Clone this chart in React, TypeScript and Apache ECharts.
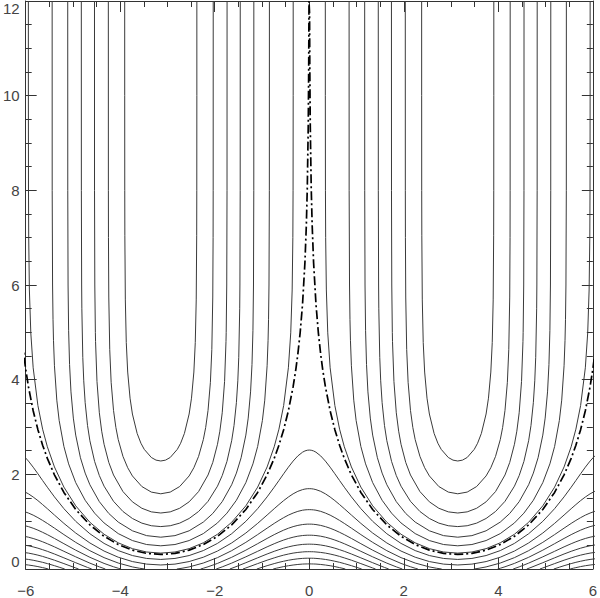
import React, { useEffect, useRef } from "react";
import * as echarts from "echarts";

type P = [number, number];

// Axis ticks
const X_MIN = -6, X_MAX = 6, X_STEP = 2;
const Y_MIN = 0, Y_MAX = 12, Y_STEP = 2;

// Centre of the left family of U-shaped contours (the right family is its mirror image)
const U_CENTER = -3.1416;

// U-shaped contours: [half-width from the centre, y]
const U1: P[] = [[0,2.282],[0.1,2.300],[0.2,2.356],[0.35,2.528],[0.42,2.657],[0.5,2.864],[0.6,3.274],[0.65,3.609],[0.7,4.161],[0.73,4.785],[0.75,5.685],[0.76,7.04],[0.7621,8],[0.7633,10],[0.7634,12]];
const U2: P[] = [[0,1.589],[0.2,1.625],[0.4,1.742],[0.6,1.966],[0.7,2.140],[0.8,2.379],[0.9,2.733],[0.95,2.989],[1.0,3.350],[1.05,3.944],[1.08,4.634],[1.1,5.746],[1.107,7],[1.1087,8],[1.1097,12]];
const U3: P[] = [[0,1.183],[0.2,1.207],[0.4,1.283],[0.6,1.419],[0.8,1.636],[1.0,1.986],[1.1,2.251],[1.2,2.635],[1.25,2.911],[1.3,3.301],[1.35,3.963],[1.38,4.804],[1.384,5],[1.3958,6],[1.4017,8],[1.4026,12]];
const U4: P[] = [[0,0.896],[0.2,0.914],[0.4,0.969],[0.6,1.067],[0.8,1.215],[1.0,1.430],[1.2,1.750],[1.3,1.974],[1.4,2.272],[1.5,2.710],[1.55,3.033],[1.6,3.514],[1.63,3.976],[1.65,4.472],[1.67,5.497],[1.6744,6],[1.6803,8],[1.6812,12]];
const U5: P[] = [[0,0.672],[0.3,0.705],[0.6,0.807],[0.9,0.991],[1.1,1.173],[1.3,1.423],[1.5,1.780],[1.6,2.026],[1.7,2.351],[1.8,2.829],[1.85,3.188],[1.9,3.742],[1.93,4.319],[1.95,5.043],[1.9616,6],[1.968,8],[1.9689,12]];
const U6: P[] = [[0,0.490],[0.3,0.517],[0.6,0.601],[0.9,0.748],[1.2,0.973],[1.4,1.180],[1.6,1.452],[1.8,1.825],[1.95,2.221],[2.05,2.589],[2.15,3.138],[2.2,3.567],[2.25,4.294],[2.27,4.832],[2.28,5.266],[2.2896,6],[2.2974,8],[2.2986,12]];
const U7: P[] = [[0,0.336],[0.3,0.359],[0.6,0.430],[0.9,0.553],[1.2,0.734],[1.5,0.987],[1.8,1.335],[2.05,1.730],[2.25,2.156],[2.4,2.583],[2.5,2.954],[2.6,3.454],[2.7,4.251],[2.75,4.989],[2.78,5.895],[2.7944,7],[2.7991,8],[2.8014,10],[2.8017,12]];

// Dash-dot separatrix
const SEPARATRIX: P[] = [[0,0.307],[0.3,0.329],[0.6,0.398],[0.9,0.517],[1.2,0.691],[1.5,0.932],[1.8,1.258],[2.05,1.618],[2.25,1.989],[2.4,2.337],[2.5,2.615],[2.6,2.944],[2.7,3.344],[2.8,3.851],[2.8584,4.223],[2.9,4.539],[2.95,5.001],[3.0,5.604],[3.05,6.475],[3.08,7.268],[3.1,8.053],[3.12,9.364],[3.13,10.608],[3.135,11.737],[3.1358,12]];

// Wavy contours below the separatrix: [offset from the centre, y]
const W8: P[] = [[0,0.202],[0.3,0.223],[0.6,0.284],[0.9,0.389],[1.2,0.541],[1.5,0.745],[1.8,1.007],[2.05,1.275],[2.25,1.524],[2.4,1.728],[2.5,1.869],[2.6,2.012],[2.7,2.151],[2.8,2.280],[2.9,2.389],[3.0,2.468],[3.05,2.494],[3.1,2.509],[3.1416,2.513]];
const W9: P[] = [[0,0.085],[0.3,0.103],[0.6,0.157],[0.9,0.249],[1.2,0.379],[1.5,0.550],[1.8,0.760],[2.05,0.964],[2.25,1.140],[2.4,1.274],[2.5,1.361],[2.6,1.445],[2.7,1.521],[2.8,1.588],[2.9,1.641],[3.0,1.677],[3.05,1.689],[3.1,1.696],[3.1416,1.697]];
const W10: P[] = [[0.3398,0],[0.45,0.016],[0.6,0.044],[0.9,0.126],[1.2,0.240],[1.5,0.387],[1.8,0.563],[2.05,0.727],[2.25,0.863],[2.4,0.963],[2.5,1.026],[2.6,1.085],[2.7,1.138],[2.8,1.182],[2.9,1.218],[3.0,1.242],[3.05,1.249],[3.1,1.253],[3.1416,1.254]];
const W11: P[] = [[0.8429,0],[0.9,0.016],[1.0,0.047],[1.2,0.118],[1.5,0.247],[1.8,0.398],[2.05,0.535],[2.25,0.646],[2.4,0.726],[2.5,0.775],[2.6,0.821],[2.7,0.861],[2.8,0.895],[2.9,0.921],[3.0,0.939],[3.05,0.944],[3.1,0.948],[3.1416,0.948]];
const W12: P[] = [[1.1726,0],[1.3,0.045],[1.5,0.124],[1.8,0.257],[2.05,0.374],[2.25,0.468],[2.4,0.534],[2.5,0.575],[2.6,0.612],[2.7,0.645],[2.8,0.672],[2.9,0.693],[3.0,0.707],[3.05,0.711],[3.1,0.714],[3.1416,0.714]];
const W13: P[] = [[1.4604,0],[1.55,0.033],[1.8,0.133],[2.05,0.236],[2.25,0.317],[2.4,0.374],[2.5,0.408],[2.6,0.440],[2.7,0.467],[2.8,0.490],[2.9,0.507],[3.0,0.519],[3.05,0.522],[3.1,0.524],[3.1416,0.525]];
const W14: P[] = [[1.7389,0],[1.8,0.022],[2.05,0.114],[2.25,0.186],[2.4,0.235],[2.5,0.266],[2.6,0.293],[2.7,0.316],[2.8,0.336],[2.9,0.350],[3.0,0.360],[3.05,0.364],[3.1,0.365],[3.1416,0.366]];
const W15: P[] = [[2.0319,0],[2.15,0.038],[2.25,0.070],[2.4,0.114],[2.5,0.141],[2.6,0.164],[2.7,0.185],[2.8,0.202],[2.9,0.215],[3.0,0.224],[3.05,0.227],[3.1,0.228],[3.1416,0.228]];
const W16: P[] = [[2.3781,0],[2.45,0.018],[2.5,0.029],[2.6,0.051],[2.7,0.069],[2.8,0.084],[2.9,0.096],[3.0,0.104],[3.05,0.106],[3.1,0.107],[3.1416,0.108]];

const U_CURVES = [U1, U2, U3, U4, U5, U6, U7];
const CLOSED_WAVES = [W8, W9];
const CUT_WAVES = [W10, W11, W12, W13, W14, W15, W16];

const toLeft = (h: P[]): P[] => h.slice().reverse().map(([u, y]) => [U_CENTER - u, y] as P);
const toRight = (h: P[]): P[] => h.map(([u, y]) => [U_CENTER + u, y] as P);
const mirror = (pts: P[]): P[] => pts.map(([x, y]) => [-x, y] as P);
const joinAtZero = (pts: P[]): P[] => pts.concat(mirror(pts).reverse().slice(1));

const THIN = { color: "#3a3a3a", width: 1 };

function buildSeries() {
  const series: any[] = [];
  const add = (data: P[], style: any = THIN, z = 2) =>
    series.push({
      type: "line",
      data,
      symbol: "none",
      showSymbol: false,
      silent: true,
      clip: true,
      z,
      lineStyle: style,
    });

  U_CURVES.forEach((h) => {
    const left = toLeft(h).concat(toRight(h).slice(1));
    add(left);
    add(mirror(left));
  });
  CLOSED_WAVES.forEach((h) => {
    const half = toLeft(h).concat(toRight(h).slice(1));
    add(joinAtZero(half));
  });
  CUT_WAVES.forEach((h) => {
    const edge = toLeft(h);
    add(edge);
    add(mirror(edge));
    add(joinAtZero(toRight(h)));
  });
  const sepHalf = toLeft(SEPARATRIX).concat(toRight(SEPARATRIX).slice(1));
  add(joinAtZero(sepHalf), { color: "#000", width: 1.7, type: [9, 3, 2, 3] }, 5);
  return series;
}

const fmt = (v: number) => (v < 0 ? "\u2212" + Math.abs(v) : String(v));

const AXIS_COLOR = "#333";
const LABEL = { color: "#444", fontSize: 15, fontFamily: "Liberation Sans" };

function axisBase(showLabel: boolean, margin: number, extra: any = {}) {
  return {
    type: "value",
    axisLine: { show: true, onZero: false, lineStyle: { color: AXIS_COLOR, width: 1 } },
    axisTick: { show: true, inside: true, length: 11, lineStyle: { color: AXIS_COLOR, width: 1 } },
    minorTick: { show: true, splitNumber: 4, length: 6, lineStyle: { color: AXIS_COLOR, width: 1 } },
    splitLine: { show: false },
    minorSplitLine: { show: false },
    axisLabel: { show: showLabel, formatter: fmt, margin, ...LABEL, ...extra },
  };
}

export default function App() {
  const ref = useRef<HTMLDivElement>(null);
  useEffect(() => {
    if (!ref.current) return;
    const chart = echarts.init(ref.current, undefined, { renderer: "svg" });
    chart.setOption({
      animation: false,
      backgroundColor: "#fff",
      grid: { left: 24, top: 1, right: 4, bottom: 25 },
      xAxis: [
        { ...axisBase(true, 14), min: X_MIN, max: X_MAX, interval: X_STEP, position: "bottom" },
        { ...axisBase(false, 12), min: X_MIN, max: X_MAX, interval: X_STEP, position: "top" },
      ],
      yAxis: [
        {
          ...axisBase(true, 6, { verticalAlignMinLabel: "bottom", verticalAlignMaxLabel: "top" }),
          min: Y_MIN, max: Y_MAX, interval: Y_STEP, position: "left",
        },
        { ...axisBase(false, 6), min: Y_MIN, max: Y_MAX, interval: Y_STEP, position: "right" },
      ],
      series: buildSeries(),
    });
    return () => chart.dispose();
  }, []);
  return (
    <div
      ref={ref}
      style={{ position: "absolute", left: 0, top: 0, width: 600, height: 598, background: "#fff" }}
    />
  );
}
